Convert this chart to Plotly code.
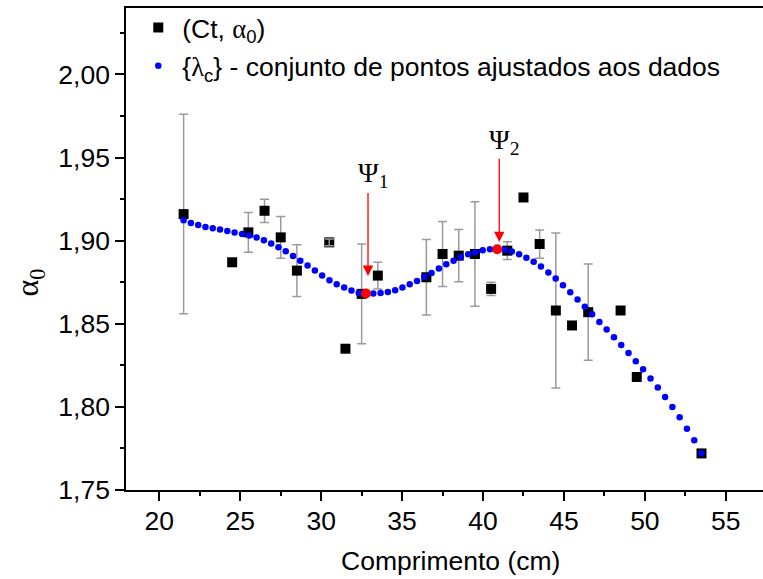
import plotly.graph_objects as go

# Measured length (cm) and fitted exponent alpha_0 with uncertainties
CT = [21.5, 24.5, 25.5, 26.5, 27.5, 28.5, 30.5, 31.5, 32.5, 33.5, 36.5, 37.5,
      38.5, 39.5, 40.5, 41.5, 42.5, 43.5, 44.5, 45.5, 46.5, 48.5, 49.5, 53.5]
ALPHA0 = [1.916, 1.887, 1.905, 1.918, 1.902, 1.882, 1.899, 1.835, 1.868, 1.879,
          1.878, 1.892, 1.891, 1.892, 1.871, 1.894, 1.926, 1.898, 1.858, 1.849,
          1.857, 1.858, 1.818, 1.772]
ALPHA0_ERR = [0.060, None, 0.012, 0.007, 0.0125, 0.0156, 0.002, None, 0.030, 0.008,
              0.0227, 0.0195, 0.0157, 0.0315, 0.004, 0.0053, None, 0.0085, 0.0467, None,
              0.029, None, None, None]

# Set of points {lambda_c} adjusted to the data
FIT_X = [21.50, 21.95, 22.40, 22.85, 23.30, 23.75, 24.20, 24.65, 25.11, 25.56,
         26.01, 26.46, 26.91, 27.36, 27.81, 28.26, 28.71, 29.16, 29.61, 30.06,
         30.51, 30.96, 31.42, 31.87, 32.32, 32.77, 33.22, 33.67, 34.12, 34.57,
         35.02, 35.47, 35.92, 36.37, 36.82, 37.27, 37.73, 38.18, 38.63, 39.08,
         39.53, 39.98, 40.43, 40.88, 41.33, 41.78, 42.23, 42.68, 43.13, 43.58,
         44.04, 44.49, 44.94, 45.39, 45.84, 46.29, 46.74, 47.19, 47.64, 48.09,
         48.54, 48.99, 49.44, 49.89, 50.35, 50.80, 51.25, 51.70, 52.15, 52.60,
         53.05, 53.50]
FIT_Y = [1.9123, 1.9106, 1.9094, 1.9082, 1.9075, 1.9067, 1.9058, 1.9050, 1.9040, 1.9031,
         1.9019, 1.9002, 1.8983, 1.8960, 1.8936, 1.8908, 1.8880, 1.8850, 1.8820, 1.8790,
         1.8762, 1.8738, 1.8718, 1.8700, 1.8686, 1.8682, 1.8682, 1.8686, 1.8692, 1.8702,
         1.8718, 1.8738, 1.8758, 1.8782, 1.8806, 1.8832, 1.8858, 1.8880, 1.8902, 1.8918,
         1.8930, 1.8942, 1.8948, 1.8948, 1.8945, 1.8935, 1.8919, 1.8898, 1.8874, 1.8845,
         1.8809, 1.8772, 1.8732, 1.8690, 1.8646, 1.8602, 1.8558, 1.8511, 1.8466, 1.8419,
         1.8373, 1.8325, 1.8275, 1.8227, 1.8171, 1.8117, 1.8059, 1.7999, 1.7937, 1.7868,
         1.7799, 1.7721]

# Local minimum (Psi_1) and maximum (Psi_2) of the adjusted set
PSI_LABELS = ["Ψ<sub>1</sub>", "Ψ<sub>2</sub>"]
PSI_X = [32.77, 40.88]
PSI_Y = [1.8682, 1.8948]

X_TICKS = [20, 25, 30, 35, 40, 45, 50, 55]
Y_TICKS = [1.75, 1.80, 1.85, 1.90, 1.95, 2.00]

SANS = "Liberation Sans, Arial, sans-serif"
SERIF = "Liberation Serif, Times New Roman, serif"
ERR_GREY = "#9a9a9a"
FS = 26.5

fig = go.Figure()

fig.add_trace(go.Scatter(
    x=CT, y=ALPHA0, mode="markers",
    name='(Ct, <span style="font-family:Liberation Serif">α</span><sub>0</sub>)',
    legendgroup="data",
    marker=dict(symbol="square", size=10, color="black"),
    error_y=dict(type="data", array=ALPHA0_ERR, color=ERR_GREY, thickness=1.5, width=4.5),
))

# the very short bar at 30.5 cm sits over its symbol
small = [i for i, e in enumerate(ALPHA0_ERR) if e is not None and e < 0.003]
fig.add_trace(go.Scatter(
    x=[CT[i] for i in small], y=[ALPHA0[i] for i in small], mode="markers",
    showlegend=False, hoverinfo="skip",
    marker=dict(symbol="square", size=10, color="rgba(0,0,0,0)"),
    error_y=dict(type="data", array=[ALPHA0_ERR[i] for i in small],
                 color=ERR_GREY, thickness=1.5, width=4.5),
))

fig.add_trace(go.Scatter(
    x=FIT_X, y=FIT_Y, mode="markers",
    name='{<span style="font-family:Liberation Serif">λ</span><sub>c</sub>} - conjunto de pontos ajustados aos dados',
    legendgroup="fit",
    marker=dict(size=6.5, color="#0000ff"),
))

fig.add_trace(go.Scatter(
    x=PSI_X, y=PSI_Y, mode="markers", showlegend=False,
    marker=dict(size=10, color="#ff0000"),
))

annotations = []
# arrows pointing at Psi_1 / Psi_2 : (tail offset, standoff, label lift)
arrow_geom = [(-102, 17.6, 119), (-92, 7.3, 108)]
for lbl, px, py, (ay, stand, lift) in zip(PSI_LABELS, PSI_X, PSI_Y, arrow_geom):
    annotations.append(dict(
        x=px, y=py, xref="x", yref="y", text="", showarrow=True,
        ax=0, ay=ay, xshift=2, standoff=stand,
        arrowhead=2, arrowsize=1.6, arrowwidth=1.3, arrowcolor="#ff0000",
    ))
    annotations.append(dict(
        x=px, y=py, xref="x", yref="y", text=lbl, showarrow=False,
        xanchor="center", yanchor="middle", xshift=7, yshift=lift,
        font=dict(family=SERIF, size=28, color="black"),
    ))

annotations.append(dict(
    x=38, y=-0.147, xref="x", yref="paper", text="Comprimento (cm)",
    showarrow=False, xanchor="center", yanchor="middle",
    font=dict(family=SANS, size=FS, color="black"),
))
annotations.append(dict(
    x=-0.151, y=0.43, xref="paper", yref="paper", text="α<sub>0</sub>",
    textangle=-90, showarrow=False, xanchor="center", yanchor="middle",
    font=dict(family=SERIF, size=32, color="black"),
))

axis_common = dict(
    showline=True, linecolor="black", linewidth=1.6,
    ticks="outside", ticklen=9, tickwidth=1.6, tickcolor="black",
    showgrid=False, zeroline=False,
    tickfont=dict(family=SANS, size=FS, color="black"),
)

fig.update_layout(
    width=763, height=579,
    margin=dict(l=126, r=0, t=8, b=89),
    paper_bgcolor="white", plot_bgcolor="white",
    separators=",.",
    font=dict(family=SANS, size=FS, color="black"),
    xaxis=dict(range=[17.94, 57.3], tickmode="array", tickvals=X_TICKS,
               mirror=True, ticklabelstandoff=-3,
               minor=dict(dtick=2.5, tick0=17.5, ticks="outside", ticklen=4,
                          tickwidth=1.6, tickcolor="black"),
               **axis_common),
    yaxis=dict(range=[1.75, 2.04], tickmode="array", tickvals=Y_TICKS,
               tickformat=".2f",
               minor=dict(dtick=0.025, tick0=1.75, ticks="outside", ticklen=4,
                          tickwidth=1.6, tickcolor="black"),
               **axis_common),
    legend=dict(x=0.013, y=1.009, xanchor="left", yanchor="top",
                bgcolor="rgba(0,0,0,0)", font=dict(family=SANS, size=FS),
                tracegroupgap=1, traceorder="grouped", itemwidth=38),
    annotations=annotations,
    showlegend=True,
)

fig.write_html("out.html")
